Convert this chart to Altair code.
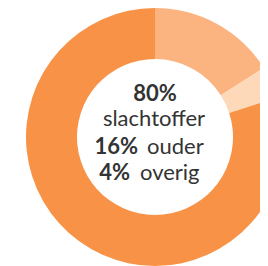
import altair as alt
import pandas as pd

categories = ["ouder", "overig", "slachtoffer"]
values = [16, 4, 80]
colors = ["#FBB47F", "#FDD9B9", "#F79247"]
order = [0, 1, 2]

df = pd.DataFrame({"cat": categories, "val": values, "ord": order})

CX, CY = 147, 129

arc = alt.Chart(df).mark_arc(outerRadius=129, innerRadius=78).encode(
    theta=alt.Theta("val:Q", stack=True),
    color=alt.Color("cat:N", scale=alt.Scale(domain=categories, range=colors), legend=None),
    order=alt.Order("ord:Q"),
    x=alt.value(CX),
    y=alt.value(CY),
)

FONT = "Lato"
TXT = "#333333"

def txt(text, x, y, align, bold):
    return alt.Chart(pd.DataFrame({"t": [text]})).mark_text(
        font=FONT, fontSize=22, fontWeight="bold" if bold else "normal",
        color=TXT, align=align, baseline="alphabetic"
    ).encode(text="t:N", x=alt.value(x), y=alt.value(y))

layers = [
    arc,
    txt("80%", CX, 93, "center", True),
    txt("slachtoffer", CX - 1, 118, "center", False),
    txt("16%", 130, 146, "right", True),
    txt("ouder", 139, 146, "left", False),
    txt("4%", 122, 172, "right", True),
    txt("overig", 132, 172, "left", False),
]

chart = alt.layer(*layers).properties(
    width=252, height=258, autosize=alt.AutoSizeParams(type="none"), padding=0
).configure_view(stroke=None)

chart.save("out.html", embed_options={"renderer": "svg", "actions": False})
